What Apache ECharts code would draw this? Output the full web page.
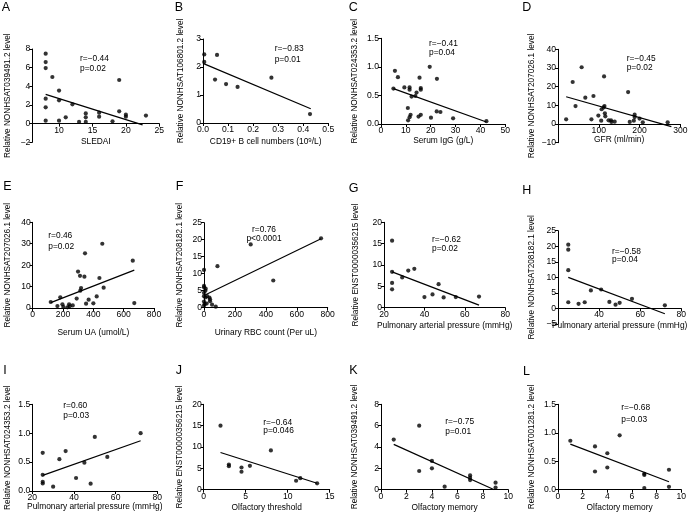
<!DOCTYPE html>
<html><head><meta charset="utf-8">
<script src="https://cdn.jsdelivr.net/npm/echarts@6/dist/echarts.min.js"></script>
<style>html,body{margin:0;padding:0;background:#fff}#c{width:692px;height:514px}</style>
</head><body><div id="c"></div>
<script>
const FONT = '"Liberation Sans", Arial, Helvetica, sans-serif';

// ---- data ----
const aX = [8,8,8,8,8,8,9,10,10,10,11,12,13,14,14,14,16,16,18,19,19,20,20,23];
const aY = [7.5,6.6,5.96,2.68,1.75,0.32,5.0,3.54,2.5,0.32,0.68,2.07,0.18,1.1,0.68,0.18,1.18,0.75,0.25,4.68,1.32,0.96,0.75,0.86];
const fitA = [[8,3.14],[22.5,-0.14]];

const bX = [0.005,0.005,0.056,0.048,0.092,0.138,0.273,0.427];
const bY = [2.45,2.18,2.43,1.55,1.39,1.29,1.62,0.32];
const fitB = [[0,2.13],[0.43,0.51]];

const cX = [5.6,6.8,5.0,9.4,11.5,11.5,10.8,10.9,11.5,11.9,12.3,13.8,14.3,15.5,16,16,15.1,16,19.6,20.1,22.5,22.4,23.9,29,42.4];
const cY = [0.93,0.82,0.62,0.64,0.64,0.6,0.28,0.064,0.12,0.16,0.48,0.49,0.55,0.81,0.6,0.63,0.13,0.16,1.0,0.11,0.79,0.22,0.21,0.1,0.05];
const fitC = [[5,0.62],[42.4,0.035]];

const dX = [20,36,43,58,67,87,82,99,106,107,112,113,114,115,116,124,130,131,139,172,176,188,188,186,200,208,269];
const dY = [2.5,22.5,9.6,30.4,14.1,15,2.5,4.5,1.8,7.9,8.9,25.5,9.6,5.7,4.1,2.0,2.0,1.1,1.25,17.1,1.1,5.0,3.7,1.8,2.9,0.9,0.9];
const fitD = [[20,14.6],[278,-1.4]];

const eX = [119,182,163,196,202,229,240,244,264,290,299,312,314,319,341,345,352,369,400,422,440,459,468,660,670];
const eY = [2.8,5.0,0.9,1.7,0.5,0.3,1.7,0.8,1.2,4.4,17,15,8.1,9.3,14.6,25.5,2.0,3.9,2.2,5.4,14,30,9.5,22.1,2.3];
const fitE = [[119,2.5],[670,17.7]];

const fX = [0,0,0,11,9,0,0,9,20,35,39,39,0,4,17,52,0,76,87,302,448,757];
const fY = [11.1,6.4,6.0,5.6,5.0,4.4,3.4,3.0,3.4,3.0,2.45,1.9,1.8,1.1,1.2,0.9,0.6,0.3,12.2,18.6,8.0,20.4];
const fitF = [[0,3.6],[757,20.3]];

const gX = [24,24,24,24,29,32,35,40,44,47,49.5,55.5,67];
const gY = [15.7,8.4,5.8,4.3,7.1,8.7,9.1,2.5,3.1,5.5,2.4,2.5,2.6];
const fitG = [[24,8.4],[67,0.6]];
const papX = [25,25,25,25,30,33,36,41,45,48,50,56,72];
const hY = [20.5,18.9,12.3,2.0,1.5,2.0,5.8,6.1,2.1,1.2,1.8,3.1,1.0];
const fitH = [[25,10.0],[72,-1.7]];
const iY = [0.66,0.28,0.16,0.13,0.075,0.55,0.69,0.225,0.49,0.127,0.935,0.59,1.0];
const fitI = [[25,0.27],[72,0.87]];

const jX = [2,3,3,4.5,4.5,5.5,8,11,11.5,13.5];
const jY = [15.0,5.9,5.5,5.2,4.2,5.6,9.2,2.1,2.7,1.5];
const fitJ = [[2,8.7],[13.5,1.5]];

const memX = [1,3,3,4,4,5,7,7,7,9,9];
const kY = [4.7,6.0,1.75,2.7,2.0,0.28,1.34,1.1,0.9,0.66,0.2];
const fitK = [[1,4.25],[8.9,0.0]];
const lY = [0.86,0.76,0.32,0.64,0.39,0.955,0.28,0.26,0.03,0.35,0.05];
const fitL = [[1,0.8],[9,0.14]];

const letters = ['A','B','C','D','E','F','G','H','I','J','K','L'];
const yTitles = ['Relative NONHSAT039491.2 level','Relative NONHSAT106801.2 level','Relative NONHSAT024353.2 level','Relative NONHSAT207026.1 level',
  'Relative NONHSAT207026.1 level','Relative NONHSAT208182.1 level','Relative ENST00000356215 level','Relative NONHSAT208182.1 level',
  'Relative NONHSAT024353.2 level','Relative ENST00000356215 level','Relative NONHSAT039491.2 level','Relative NONHSAT001281.2 level'];
const xTitles = ['SLEDAI','{t|CD19+ B cell numbers (10}{s|9}{t|/L)}','Serum IgG (g/L)','GFR (ml/min)',
  'Serum UA (umol/L)','Urinary RBC count (Per uL)','Pulmonary arterial pressure (mmHg)','Pulmonary arterial pressure (mmHg)',
  'Pulmonary arterial pressure (mmHg)','Olfactory threshold','Olfactory memory','Olfactory memory'];
const rTexts = ['r=\u22120.44','r=\u22120.83','r=\u22120.41','r=\u22120.45','r=0.46','r=0.76','r=\u22120.62','r=\u22120.58','r=0.60','r=\u22120.64','r=\u22120.75','r=\u22120.68'];
const pTexts = ['p=0.02','p=0.01','p=0.04','p=0.02','p=0.02','p<0.0001','p=0.02','p=0.04','p=0.03','p=0.046','p=0.01','p=0.03'];
const xTicksA = [10,15,20,25];

const pts = [[aX,aY,fitA],[bX,bY,fitB],[cX,cY,fitC],[dX,dY,fitD],[eX,eY,fitE],[fX,fY,fitF],
  [gX,gY,fitG],[papX,hY,fitH],[papX,iY,fitI],[jX,jY,fitJ],[memX,kY,fitK],[memX,lY,fitL]];

// ---- layout (pixels) ----
const L = [
 {l:32.3,t:49,r:159.3,b:142.3, x:[6,25,null], xt:xTicksA, y:[-2,8,2], xd:0, yd:0, xg:14, yg:21, let:[1.7,7.5], an:[80,59,69]},
 {l:203,t:39,r:328.3,b:123, x:[0,0.5,0.1], y:[0,3,1], xd:1, yd:0, xg:14, yg:18.7, let:[174.7,7.5], an:[274.7,49,60]},
 {l:381,t:38.3,r:505.3,b:124, x:[0,50,10], y:[0,1.5,0.5], xd:0, yd:1, xg:13, yg:22, let:[348.7,7.7], an:[429,43.7,52.7]},
 {l:558,t:49.3,r:680.3,b:142.7, x:[0,300,100], hideMin:true, y:[-10,40,10], xd:0, yd:0, xg:12, yg:22.7, let:[522.3,7.8], an:[626.7,58.3,67.7]},
 {l:32.7,t:222.3,r:154,b:308, x:[0,800,200], y:[0,40,10], xd:0, yd:0, xg:21, yg:21.4, let:[3.3,187], an:[48.3,236,246.3]},
 {l:204,t:222.7,r:327.7,b:307.7, x:[0,800,200], y:[0,25,5], xd:0, yd:0, xg:21, yg:20.3, let:[175.7,187], an:[264,229.5,238.3], center:true},
 {l:384,t:222.3,r:505.3,b:307.7, x:[20,80,20], y:[0,20,5], xd:0, yd:0, xg:13.5, yg:24, let:[348.7,188.8], an:[432,239.3,248.7]},
 {l:558,t:230.7,r:681.3,b:324, x:[20,80,20], hideMin:true, y:[-5,25,5], xd:0, yd:0, xg:13.5, yg:22.7, let:[522.3,190.3], an:[612,251.3,259.3]},
 {l:32.3,t:404.3,r:157.3,b:491, x:[20,80,20], y:[0,1.5,0.5], xd:0, yd:1, xg:11.5, yg:21, let:[3.3,370.8], an:[63.3,405.7,415.3]},
 {l:203.7,t:404.3,r:329.7,b:489.7, x:[0,15,5], y:[0,20,5], xd:0, yd:0, xg:13.5, yg:20, let:[175.7,371], an:[263.3,422.3,431]},
 {l:381,t:404.3,r:508.3,b:489.7, x:[0,10,2], y:[0,8,2], xd:0, yd:0, xg:14, yg:22, let:[349.3,370.3], an:[445.3,422,431.3]},
 {l:558,t:404.3,r:681.3,b:489.7, x:[0,10,2], y:[0,1.5,0.5], xd:0, yd:1, xg:13.5, yg:22.7, let:[523,371.7], an:[621.3,408,419.3]}
];

const fmt = d => v => (d ? v.toFixed(d) : String(v)).replace('-', '\u2212');
const grids=[], xAxes=[], yAxes=[], series=[], graphics=[];
const txt = {fontFamily:FONT, fontSize:8.6, color:'#000'};

pts.forEach((p,i)=>{
  const c = L[i];
  const h = c.b - c.t;
  grids.push({left:c.l, top:c.t, width:c.r-c.l, height:h, containLabel:false});
  // x axis sits at y = 0 (moved up from the grid bottom when the y range goes below zero)
  const zeroOffset = c.y[0] < 0 ? -h * (0 - c.y[0]) / (c.y[1] - c.y[0]) : 0;
  const xa = {type:'value', gridIndex:i, min:c.x[0], max:c.x[1], offset:zeroOffset,
    name:xTitles[i], nameLocation:'middle', nameGap:c.xg,
    nameTextStyle:{fontFamily:FONT, fontSize:8.4, color:'#000', rich:{t:{fontFamily:FONT,fontSize:8.4,color:'#000'}, s:{fontFamily:FONT,fontSize:6,color:'#000',verticalAlign:'top',padding:[0,0,4,0]}}},
    axisLine:{show:true, onZero:false, lineStyle:{color:'#000', width:1}},
    axisTick:{show:true, length:3, lineStyle:{color:'#000', width:1}},
    axisLabel:{...txt, margin:2, formatter:fmt(c.xd), showMinLabel: !c.hideMin},
    splitLine:{show:false}};
  if (c.x[2] != null) xa.interval = c.x[2];
  if (c.xt) { xa.axisTick.customValues = c.xt; xa.axisLabel.customValues = c.xt; }
  xAxes.push(xa);
  yAxes.push({type:'value', gridIndex:i, min:c.y[0], max:c.y[1], interval:c.y[2],
    name:yTitles[i], nameLocation:'middle', nameGap:c.yg, nameRotate:90,
    nameTextStyle:{fontFamily:FONT, fontSize:8.2, color:'#000'},
    axisLine:{show:true, onZero:false, lineStyle:{color:'#000', width:1}},
    axisTick:{show:true, length:3, lineStyle:{color:'#000', width:1}},
    axisLabel:{...txt, margin:2, formatter:fmt(c.yd)},
    splitLine:{show:false}});
  series.push({type:'scatter', xAxisIndex:i, yAxisIndex:i, symbol:'circle', symbolSize:4.2,
    itemStyle:{color:'#000'}, data:p[0].map((x,k)=>[x,p[1][k]]), z:3});
  series.push({type:'line', xAxisIndex:i, yAxisIndex:i, data:p[2], symbol:'none', showSymbol:false,
    lineStyle:{color:'#000', width:1.2}, z:2, silent:true});
  graphics.push({type:'text', x:c.let[0], y:c.let[1], style:{text:letters[i], font:'12.5px '+FONT, fill:'#000', align:'left', verticalAlign:'middle'}});
  const al = c.center ? 'center' : 'left';
  graphics.push({type:'text', x:c.an[0], y:c.an[1], style:{text:rTexts[i], font:'8.4px '+FONT, fill:'#000', align:al, verticalAlign:'middle'}});
  graphics.push({type:'text', x:c.an[0], y:c.an[2], style:{text:pTexts[i], font:'8.4px '+FONT, fill:'#000', align:al, verticalAlign:'middle'}});
});

const chart = echarts.init(document.getElementById('c'), null, {renderer:'canvas'});
chart.setOption({animation:false, backgroundColor:'#fff', grid:grids, xAxis:xAxes, yAxis:yAxes, series:series, graphic:graphics});
</script></body></html>
